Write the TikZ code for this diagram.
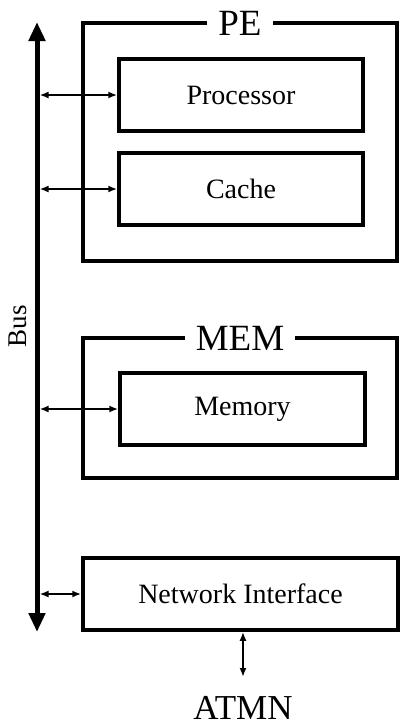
\documentclass[tikz,border=0pt]{standalone}
\usepackage{fontspec}
\setmainfont{Liberation Serif}
\usetikzlibrary{arrows.meta}

\begin{document}
\begin{tikzpicture}[x=1pt,y=-1pt,
    unit/.style={draw,line width=3.5pt,minimum width=244pt,minimum height=72pt,font=\fontsize{28}{30}\selectfont},
    group/.style={draw,line width=4pt,outer sep=0pt,minimum width=314pt},
    title/.style={fill=white,inner xsep=11pt,inner ysep=0pt,font=\fontsize{37}{40}\selectfont},
    link/.style={line width=2.5pt,{Latex[length=9pt,width=7pt]}-{Latex[length=9pt,width=7pt]}},
    busline/.style={line width=5pt,{Triangle[length=19pt,width=16pt]}-{Triangle[length=19pt,width=16pt]}}]
    \useasboundingbox (0,0) rectangle (400,726);

    \node[group,minimum height=238pt] (pe) at (240,142) {};
    \node[title] (petitle) at (pe.north) {PE};
    \node[unit] (proc) at (241,95) {Processor};
    \node[unit] (cache) at (241,189) {Cache};

    \node[group,minimum height=140pt] (mem) at (240,408) {};
    \node[title] (memtitle) at (mem.north) {MEM};
    \node[unit,minimum width=245pt] (memory) at (242.5,409) {Memory};

    \node[unit,minimum width=315pt] (ni) at (240.5,594) {Network Interface};
    \node[font=\fontsize{35}{40}\selectfont] (atmn) at (243,708) {ATMN};

    \coordinate (bustop) at (37,22);
    \coordinate (busbot) at (37,632);
    \coordinate (atmnlink) at (243,677);
    \draw[busline] (busbot) -- (bustop);
    \node[rotate=90,font=\fontsize{27}{30}\selectfont] (buslabel) at (18,326) {Bus};

    \foreach \n in {proc,cache,memory,ni}
        \draw[link,shorten <=2.5pt] (\n.west -| bustop) -- (\n.west);
    \draw[link] (ni.south -| atmnlink) -- (atmnlink);
\end{tikzpicture}
\end{document}
